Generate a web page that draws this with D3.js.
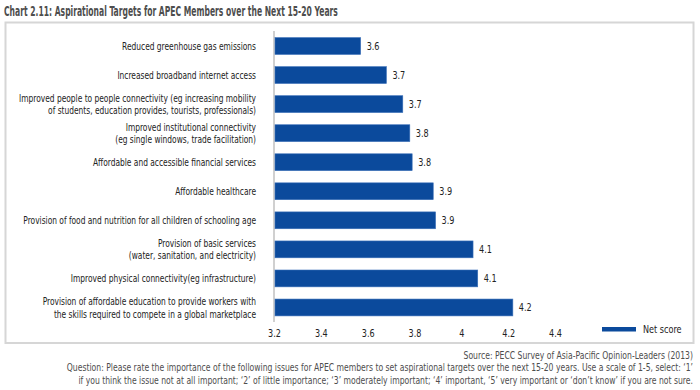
<!DOCTYPE html>
<html>
<head>
<meta charset="utf-8">
<script src="https://cdn.jsdelivr.net/npm/d3@7"></script>
<style>
  html, body { margin: 0; padding: 0; background: #fff; }
  svg { display: block; }
  text { font-family: "DejaVu Sans Condensed", "DejaVu Sans", sans-serif; font-stretch: condensed; }
</style>
</head>
<body>
<svg id="chart" width="700" height="390"></svg>
<script>
const titleText = "Chart 2.11: Aspirational Targets for APEC Members over the Next 15-20 Years";
const categories = [
  ["Reduced greenhouse gas emissions"],
  ["Increased broadband internet access"],
  ["Improved people to people connectivity (eg increasing mobility", "of students, education provides, tourists, professionals)"],
  ["Improved institutional connectivity", "(eg single windows, trade facilitation)"],
  ["Affordable and accessible financial services"],
  ["Affordable healthcare"],
  ["Provision of food and nutrition for all children of schooling age"],
  ["Provision of basic services", "(water, sanitation, and electricity)"],
  ["Improved physical connectivity(eg infrastructure)"],
  ["Provision of affordable education to provide workers with", "the skills required to compete in a global marketplace"]
];
const netScore = [3.57, 3.68, 3.75, 3.78, 3.79, 3.88, 3.89, 4.05, 4.07, 4.22];
const valueLabels = ["3.6", "3.7", "3.7", "3.8", "3.8", "3.9", "3.9", "4.1", "4.1", "4.2"];
const xTicks = [3.2, 3.4, 3.6, 3.8, 4.0, 4.2, 4.4];
const legendLabel = "Net score";
const footerLines = [
  "Source: PECC Survey of Asia-Pacific Opinion-Leaders (2013)",
  "Question: Please rate the importance of the following issues for APEC members to set aspirational targets over the next 15-20 years. Use a scale of 1-5, select: \u20181\u2019",
  "if you think the issue not at all important; \u20182\u2019 of little importance; \u20183\u2019 moderately important; \u20184\u2019 important, \u20185\u2019 very important or \u2018don\u2019t know\u2019 if you are not sure."
];

const svg = d3.select("#chart");
const barColor = "#0b4a9c";

// horizontal condensation helper: squeeze text around its anchor x
function condense(sel, f, ax) {
  sel.attr("transform", `matrix(${f},0,0,1,${ax * (1 - f)},0)`);
}
function measure(str, size, weight) {
  const t = svg.append("text").attr("font-size", size).attr("font-weight", weight || "normal").text(str);
  const w = t.node().getComputedTextLength();
  t.remove();
  return w;
}

// Title
const titleF = 334 / measure(titleText, 13.5, "bold");
const title = svg.append("text")
  .attr("x", 4).attr("y", 16)
  .attr("font-size", 13.5).attr("font-weight", "bold")
  .attr("fill", "#4d4d4d")
  .text(titleText);
condense(title, Math.min(1, titleF), 4);

// Frame
svg.append("rect")
  .attr("x", 5.5).attr("y", 22.5).attr("width", 688).attr("height", 320.5)
  .attr("fill", "none").attr("stroke", "#d6d6d6").attr("stroke-width", 2);

const x = d3.scaleLinear().domain([3.2, 4.4]).range([274, 555]);
const y = d3.scaleBand().domain(d3.range(categories.length)).range([31.5, 322]).paddingInner(0.42).paddingOuter(0.21);

// Axis line (vertical)
svg.append("line")
  .attr("x1", x(3.2)).attr("x2", x(3.2))
  .attr("y1", 31).attr("y2", 322)
  .attr("stroke", "#d0d0d0").attr("stroke-width", 2);

// Bars
svg.append("g").selectAll("rect")
  .data(netScore)
  .join("rect")
  .attr("x", x(3.2) + 1)
  .attr("y", (d, i) => y(i))
  .attr("width", d => x(d) - x(3.2) - 1)
  .attr("height", y.bandwidth())
  .attr("fill", barColor)
  .attr("stroke", "#3a6fb8").attr("stroke-width", 0.6);

const smallF = 0.82;

// Value labels
svg.append("g").selectAll("text")
  .data(netScore)
  .join("text")
  .attr("x", d => x(d) + 6)
  .attr("y", (d, i) => y(i) + y.bandwidth() / 2)
  .attr("dy", "0.35em")
  .attr("font-size", 11)
  .attr("fill", "#222")
  .text((d, i) => valueLabels[i])
  .each(function (d) { condense(d3.select(this), smallF, x(d) + 6); });

// Category labels
const catF = 233 / measure(categories[6][0], 10.8);
const catG = svg.append("g");
categories.forEach((lines, i) => {
  const cy = y(i) + y.bandwidth() / 2;
  const t = catG.append("text")
    .attr("text-anchor", "end")
    .attr("font-size", 10.8)
    .attr("fill", "#222");
  lines.forEach((ln, j) => {
    t.append("tspan")
      .attr("x", 256)
      .attr("y", cy + (j - (lines.length - 1) / 2) * 12.5)
      .attr("dy", "0.35em")
      .text(ln);
  });
  condense(t, catF, 256);
});

// X axis
const xAxis = d3.axisBottom(x).tickValues(xTicks).tickSize(0).tickFormat(d3.format("~g"));
const ax = svg.append("g").attr("transform", "translate(0,326)").call(xAxis);
ax.select(".domain").remove();
ax.selectAll("text").attr("font-size", 11).attr("fill", "#222")
  .style("font-family", '"DejaVu Sans Condensed", "DejaVu Sans", sans-serif')
  .attr("transform", `scale(${smallF},1)`);

// Legend
svg.append("rect").attr("x", 602).attr("y", 327).attr("width", 34).attr("height", 4.5).attr("fill", barColor);
const leg = svg.append("text").attr("x", 643).attr("y", 329.5).attr("dy", "0.35em")
  .attr("font-size", 11).attr("fill", "#222").text(legendLabel);
condense(leg, smallF, 643);

// Footer
const footF = 627 / measure(footerLines[1], 10.5);
svg.append("g").selectAll("text")
  .data(footerLines)
  .join("text")
  .attr("x", 693)
  .attr("y", (d, i) => 355 + i * 12.8)
  .attr("dy", "0.35em")
  .attr("text-anchor", "end")
  .attr("font-size", 10.5)
  .attr("fill", "#4d4d4d")
  .text(d => d)
  .each(function () { condense(d3.select(this), footF, 693); });
</script>
</body>
</html>
